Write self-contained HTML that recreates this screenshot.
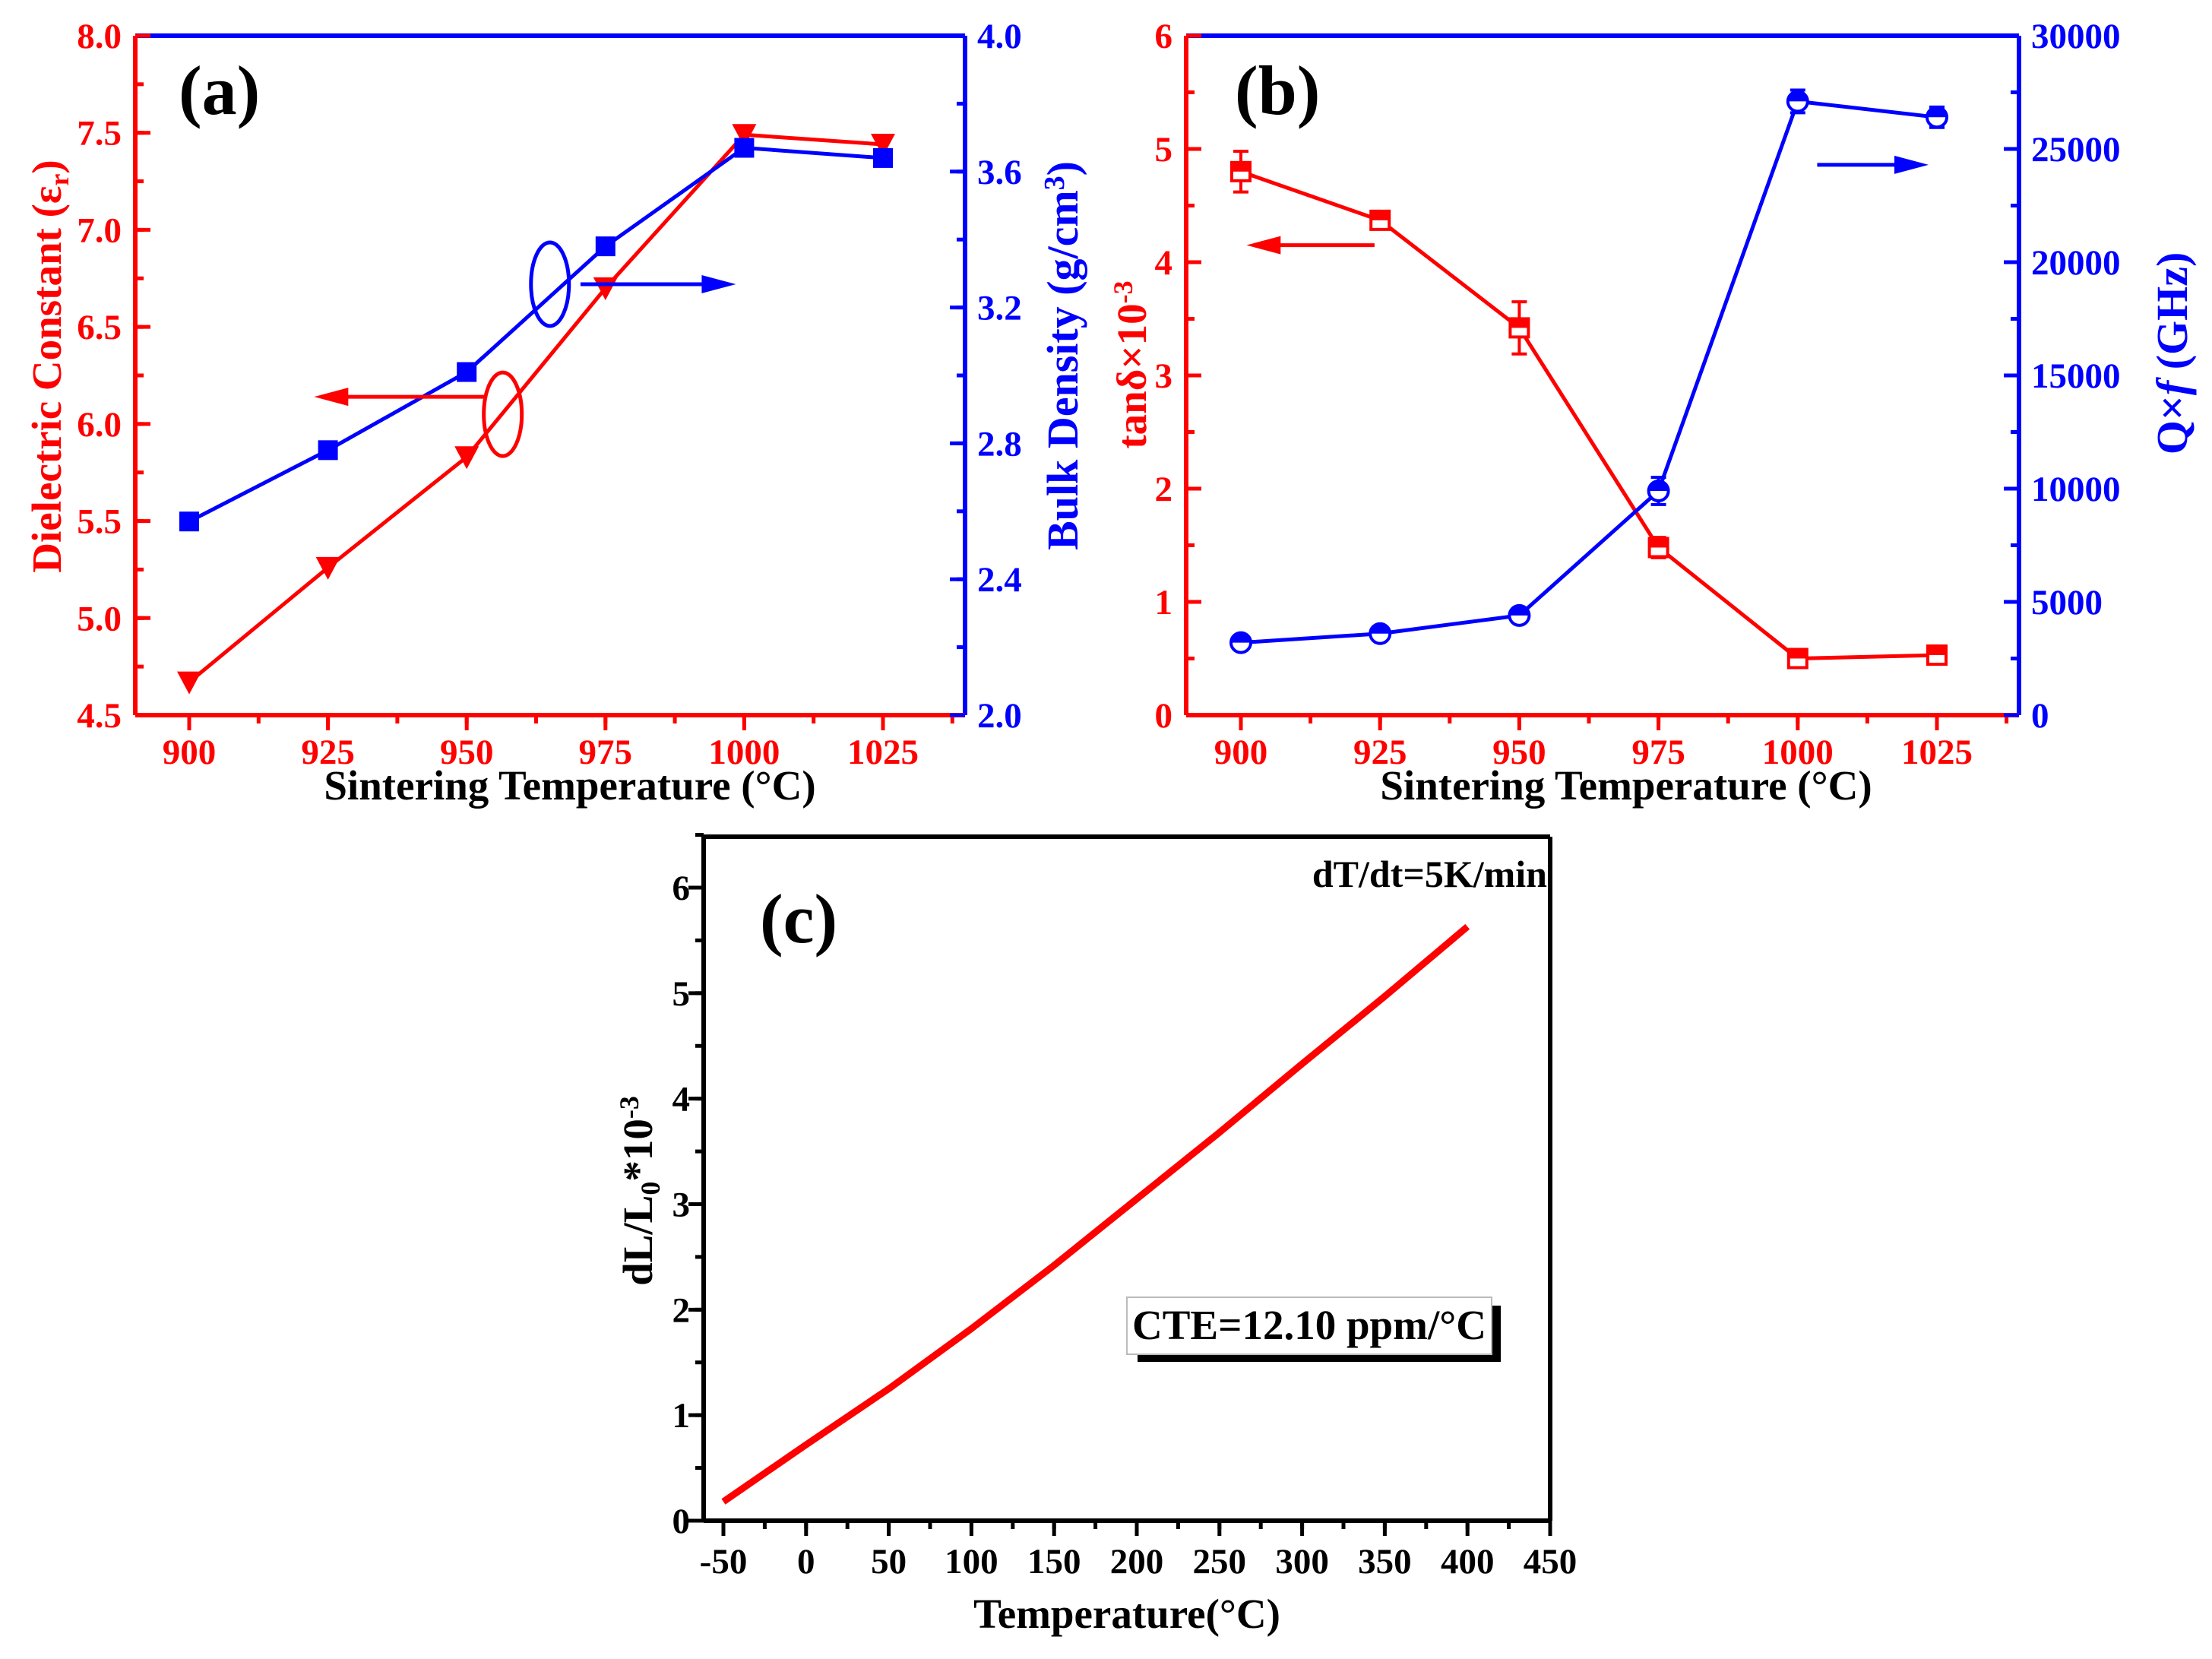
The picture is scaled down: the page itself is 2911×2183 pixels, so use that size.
<!DOCTYPE html>
<html><head><meta charset="utf-8">
<style>
html,body{margin:0;padding:0;background:#fff;}
svg{display:block;font-family:"Liberation Serif",serif;font-weight:bold;}
</style></head>
<body>
<svg id="fig" xmlns="http://www.w3.org/2000/svg" width="2911" height="2183" viewBox="0 0 2911 2183"></svg>
<script>
// ---------- data ----------
const tempsAB = [900, 925, 950, 975, 1000, 1025];
const xTicksAB = [900, 925, 950, 975, 1000, 1025];
const epsValues = [4.67, 5.26, 5.83, 6.70, 7.49, 7.44];
const densityValues = [2.57, 2.78, 3.01, 3.38, 3.67, 3.64];
const epsTicks = [4.5, 5.0, 5.5, 6.0, 6.5, 7.0, 7.5, 8.0];
const densityTicks = [2.0, 2.4, 2.8, 3.2, 3.6, 4.0];
const tanValues = [4.80, 4.37, 3.42, 1.48, 0.50, 0.53];
const tanErr = [0.18, 0.06, 0.23, 0.09, 0.05, 0.05];
const qfValues = [3200, 3600, 4400, 9900, 27100, 26400];
const qfErr = [300, 300, 300, 600, 500, 450];
const tanTicks = [0, 1, 2, 3, 4, 5, 6];
const qfTicks = [0, 5000, 10000, 15000, 20000, 25000, 30000];
const tempC = [-50, 0, 50, 100, 150, 200, 250, 300, 350, 400];
const dlValues = [0.18, 0.72, 1.25, 1.82, 2.42, 3.05, 3.68, 4.33, 4.97, 5.63];
const xTicksC = [-50, 0, 50, 100, 150, 200, 250, 300, 350, 400, 450];
const yTicksC = [0, 1, 2, 3, 4, 5, 6];

const NS = "http://www.w3.org/2000/svg";
const svg = document.getElementById('fig');
function el(tag, attrs, parent){
  const e = document.createElementNS(NS, tag);
  for (const k in attrs) e.setAttribute(k, attrs[k]);
  (parent||svg).appendChild(e);
  return e;
}
function lin(d0,d1,r0,r1){return v=>r0+(v-d0)*(r1-r0)/(d1-d0);}
const RED="#ff0000", BLUE="#0000ff", BLK="#000";
const TICKFS = 47, TITLEFS = 55;

const ax = lin(900,1025,249,1162);
const ayL = lin(4.5,8.0,941,47);
const ayR = lin(2.0,4.0,941,47);
const bx = lin(900,1025,1633,2549);
const byL = lin(0,6,941,47);
const byR = lin(0,30000,941,47);
const cx = lin(-50,450,952,2040);
const cy = lin(0,6,2001,1168);

function frame(g,L,R,T,B,cBottom,cLeft,cTop,cRight){
  let l;
  l=el('line',{x1:L,y1:T,x2:R,y2:T,stroke:cTop,'stroke-width':6},g);
  
  l=el('line',{x1:R,y1:T,x2:R,y2:B,stroke:cRight,'stroke-width':6},g);
  
  l=el('line',{x1:L,y1:B,x2:R,y2:B,stroke:cBottom,'stroke-width':6},g);
  
  l=el('line',{x1:L,y1:T,x2:L,y2:B,stroke:cLeft,'stroke-width':6},g);
  
}
function text(g,x,y,s,opts,name){
  const t=el('text',Object.assign({x:x,y:y,'font-size':TICKFS,fill:BLK},opts),g);
  t.textContent=s;
  
  
  return t;
}
function xAxis(g,scale,ticks,B,color,fmt,minorStep,lo,hi,dir,labOff){
  ticks.forEach(v=>{
    const x=scale(v);
    el('line',{x1:x,y1:B,x2:x,y2:B+dir*20,stroke:color,'stroke-width':5},g);
    text(g,x,B+labOff,fmt(v),{'text-anchor':'middle',fill:color},'x-tick-label');
  });
  for(let v=lo; v<=hi+1e-9; v+=minorStep){
    const x=scale(v);
    el('line',{x1:x,y1:B,x2:x,y2:B+dir*11,stroke:color,'stroke-width':5},g);
  }
}
function yAxis(g,scale,ticks,X,color,fmt,side,minorStep,lo,hi,dir){
  ticks.forEach(v=>{
    const y=scale(v);
    el('line',{x1:X,y1:y,x2:X+dir*20,y2:y,stroke:color,'stroke-width':5},g);
    text(g, side<0?X-18:X+16, y+16, fmt(v), {'text-anchor':side<0?'end':'start',fill:color},'y-tick-label');
  });
  for(let v=lo; v<=hi+1e-9; v+=minorStep){
    const y=scale(v);
    el('line',{x1:X,y1:y,x2:X+dir*11,y2:y,stroke:color,'stroke-width':5},g);
  }
}
function polyline(g,xs,ys,sx,sy,color,w,name){
  const pts=xs.map((v,i)=>sx(v)+','+sy(ys[i])).join(' ');
  const p=el('polyline',{points:pts,fill:'none',stroke:color,'stroke-width':w,'stroke-linejoin':'round'},g);
  
  
}
function arrow(g,x1,y,x2,color,name){
  const d=x2>x1?1:-1;
  const a=el('g',{},g);
  
  
  el('line',{x1:x1,y1:y,x2:x2-d*40,y2:y,stroke:color,'stroke-width':5},a);
  el('polygon',{points:`${x2},${y} ${x2-d*45},${y-12} ${x2-d*45},${y+12}`,fill:color},a);
}

// ---------- panel a ----------
const ga = el('g',{});


frame(ga,178,1270,47,941,RED,RED,BLUE,BLUE);
xAxis(ga,ax,xTicksAB,941,RED,v=>String(v),12.5,900,1037.5,1,64);
yAxis(ga,ayL,epsTicks,178,RED,v=>v.toFixed(1),-1,0.25,4.5,8.0,1);
yAxis(ga,ayR,densityTicks,1270,BLUE,v=>v.toFixed(1),1,0.2,2.0,4.0,-1);
polyline(ga,tempsAB,epsValues,ax,ayL,RED,5,'dielectric-constant-line');
polyline(ga,tempsAB,densityValues,ax,ayR,BLUE,5,'bulk-density-line');
tempsAB.forEach((t,i)=>{
  const x=ax(t), y=ayL(epsValues[i]);
  const m=el('polygon',{points:`${x-16},${y-14} ${x+16},${y-14} ${x},${y+16}`,fill:RED},ga);
  
  
  const yb=ayR(densityValues[i]);
  const s=el('rect',{x:x-13,y:yb-13,width:26,height:26,fill:BLUE},ga);
  
  
});
let e1=el('ellipse',{cx:ax(956.5),cy:ayL(6.05),rx:25,ry:55,fill:'none',stroke:RED,'stroke-width':5},ga);

let e2=el('ellipse',{cx:ax(965),cy:ayL(6.72),rx:25,ry:55,fill:'none',stroke:BLUE,'stroke-width':5},ga);

arrow(ga,ax(953.5),ayL(6.14),ax(922.5),RED,'left-axis-arrow');
arrow(ga,ax(970.5),ayL(6.72),ax(998.5),BLUE,'right-axis-arrow');
text(ga,235,150,'(a)',{'font-size':92},'panel-a-label');
let t=text(ga,0,0,'',{'text-anchor':'middle',fill:RED,'font-size':TITLEFS,transform:'translate(80,482) rotate(-90)'},'y-axis-title-left');
t.innerHTML='Dielectric Constant (ε<tspan font-size="36" dy="10">r</tspan><tspan dy="-10">)</tspan>';
t=text(ga,0,0,'',{'text-anchor':'middle',fill:BLUE,'font-size':TITLEFS+3,transform:'translate(1418,468) rotate(-90)'},'y-axis-title-right');
t.innerHTML='Bulk Density (g/cm<tspan font-size="38" dy="-18">3</tspan><tspan dy="18">)</tspan>';
text(ga,750,1052,'Sintering Temperature (°C)',{'text-anchor':'middle','font-size':TITLEFS},'x-axis-title');

// ---------- panel b ----------
const gb = el('g',{});


frame(gb,1561,2657,47,941,RED,RED,BLUE,BLUE);
xAxis(gb,bx,xTicksAB,941,RED,v=>String(v),12.5,900,1037.5,1,64);
yAxis(gb,byL,tanTicks,1561,RED,v=>String(v),-1,0.5,0,6,1);
yAxis(gb,byR,qfTicks,2657,BLUE,v=>String(v),1,2500,0,30000,-1);
polyline(gb,tempsAB,tanValues,bx,byL,RED,5,'tan-delta-line');
polyline(gb,tempsAB,qfValues,bx,byR,BLUE,5,'qf-line');
tempsAB.forEach((tt,i)=>{
  const x=bx(tt);
  const y=byL(tanValues[i]), e=byL(tanValues[i]-tanErr[i])-y;
  const g1=el('g',{},gb);
  
  
  el('path',{d:`M${x},${y-e}V${y+e}M${x-10},${y-e}H${x+10}M${x-10},${y+e}H${x+10}`,stroke:RED,'stroke-width':4},g1);
  el('rect',{x:x-12,y:y-12,width:24,height:24,fill:'#fff',stroke:RED,'stroke-width':4},g1);
  el('rect',{x:x-12,y:y-12,width:24,height:12,fill:RED},g1);
  const yq=byR(qfValues[i]), eq=byR(qfValues[i]-qfErr[i])-yq;
  const g2=el('g',{},gb);
  
  
  el('path',{d:`M${x},${yq-eq}V${yq+eq}M${x-10},${yq-eq}H${x+10}M${x-10},${yq+eq}H${x+10}`,stroke:BLUE,'stroke-width':4},g2);
  el('circle',{cx:x,cy:yq,r:13,fill:'#fff',stroke:BLUE,'stroke-width':4},g2);
  el('path',{d:`M${x-13},${yq}A13,13 0 0 1 ${x+13},${yq}Z`,fill:BLUE},g2);
});
arrow(gb,bx(924),byL(4.15),bx(901),RED,'left-axis-arrow');
arrow(gb,bx(1003.5),byR(24300),bx(1023.5),BLUE,'right-axis-arrow');
text(gb,1625,150,'(b)',{'font-size':92},'panel-b-label');
t=text(gb,0,0,'',{'text-anchor':'middle',fill:RED,'font-size':TITLEFS,transform:'translate(1508,480) rotate(-90)'},'y-axis-title-left');
t.innerHTML='tanδ×10<tspan font-size="36" dy="-18">-3</tspan>';
t=text(gb,0,0,'',{'text-anchor':'middle',fill:BLUE,'font-size':TITLEFS+3,transform:'translate(2878,465) rotate(-90)'},'y-axis-title-right');
t.innerHTML='Q×<tspan font-style="italic">f</tspan> (GHz)';
text(gb,2140,1052,'Sintering Temperature (°C)',{'text-anchor':'middle','font-size':TITLEFS},'x-axis-title');

// ---------- panel c ----------
const gc = el('g',{});


frame(gc,926,2040,1101,2001,BLK,BLK,BLK,BLK);
xAxis(gc,cx,xTicksC,2001,BLK,v=>String(v),25,-50,450,1,69);
yAxis(gc,cy,yTicksC,926,BLK,v=>String(v),-1,0.5,0,6.5,-1);
polyline(gc,tempC,dlValues,cx,cy,RED,9,'thermal-expansion-curve');
text(gc,1000,1240,'(c)',{'font-size':92},'panel-c-label');
text(gc,2036,1167,'dT/dt=5K/min',{'text-anchor':'end','font-size':50},'heating-rate-label');
const sh=el('rect',{x:1497,y:1718,width:478,height:74,fill:BLK},gc);

const bx2=el('rect',{x:1483,y:1707,width:480,height:75,fill:'#fff',stroke:'#bbb','stroke-width':2},gc);

text(gc,1723,1762,'CTE=12.10 ppm/°C',{'text-anchor':'middle','font-size':55},'cte-label');
t=text(gc,0,0,'',{'text-anchor':'middle','font-size':TITLEFS,transform:'translate(858,1567) rotate(-90)'},'y-axis-title');
t.innerHTML='dL/L<tspan font-size="36" dy="10">0</tspan><tspan dy="-10">*10</tspan><tspan font-size="36" dy="-18">-3</tspan>';
text(gc,1483,2142,'Temperature(°C)',{'text-anchor':'middle','font-size':TITLEFS},'x-axis-title');
</script>
</body></html>
